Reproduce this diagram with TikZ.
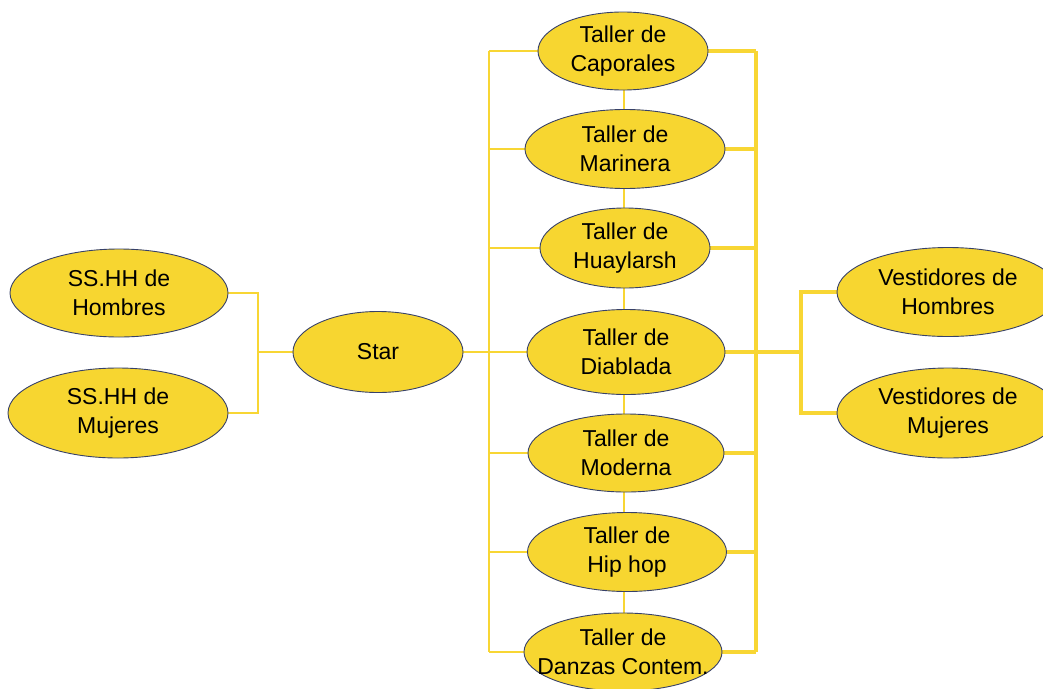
\documentclass[tikz,border=0pt]{standalone}
\usepackage{fontspec}
\setmainfont{Liberation Sans}
\usetikzlibrary{shapes.geometric,backgrounds}
\definecolor{fillY}{RGB}{247,214,48}
\definecolor{lineY}{RGB}{248,214,52}
\definecolor{edgeB}{RGB}{55,65,105}
\begin{document}
\begin{tikzpicture}[x=1pt,y=-1pt,
  ov/.style={ellipse,draw=edgeB,line width=0.9pt,fill=fillY,inner xsep=-40pt,inner ysep=-20pt,align=center,
     font=\fontsize{23}{29}\selectfont},
  thin/.style={draw=lineY,line width=1.3pt},
  thick/.style={draw=lineY,line width=3.6pt},
  mid/.style={draw=lineY,line width=2.8pt}]
\useasboundingbox (0,0) rectangle (1043,688);
% nodes
\node[ov,minimum width=218pt,minimum height=88pt] (hh) at (119,293) {SS.HH de\\Hombres};
\node[ov,minimum width=220pt,minimum height=90pt] (hm) at (118,413) {SS.HH de\\Mujeres};
\node[ov,minimum width=170pt,minimum height=81pt] (star) at (378,352) {Star};
\node[ov,minimum width=170pt,minimum height=78pt] (t1) at (623,51) {Taller de\\Caporales};
\node[ov,minimum width=200pt,minimum height=79pt] (t2) at (625,149) {Taller de\\Marinera};
\node[ov,minimum width=170pt,minimum height=80pt] (t3) at (625,248) {Taller de\\Huaylarsh};
\node[ov,minimum width=198pt,minimum height=85pt] (t4) at (626,352) {Taller de\\Diablada};
\node[ov,minimum width=196pt,minimum height=78pt] (t5) at (626,453) {Taller de\\Moderna};
\node[ov,minimum width=199pt,minimum height=79pt] (t6) at (627,552) {Taller de\\Hip hop};
\node[ov,minimum width=198pt,minimum height=78pt] (t7) at (623,652) {Taller de\\Danzas Contem.};
\node[ov,minimum width=222pt,minimum height=89pt] (vh) at (948,292) {Vestidores de\\Hombres};
\node[ov,minimum width=222pt,minimum height=90pt] (vm) at (948,413) {Vestidores de\\Mujeres};
% bus coordinates
\coordinate (jl) at (258,352);
\coordinate (tb) at (489,51);
\coordinate (bb) at (489,652);
\coordinate (rt) at (756,51);
\coordinate (rb) at (756,652);
\coordinate (vb) at (801,352);
\coordinate (vx) at (624,0);
\begin{scope}[on background layer]
\draw[thin] (hh.east) -| (jl) |- (hm.east);
\draw[thin] (star.west) -- (jl);
\draw[thin] (star.east) -- (t4.west);
\draw[thin] (tb) -- (bb);
\foreach \n in {t1,t2,t3,t5,t6,t7}
  \draw[thin] (\n.west) -- (\n.west -| tb);
\draw[thick] (rt) -- (rb);
\foreach \n in {t1,t2,t3,t4,t5,t6,t7}
  \draw[thick] (\n.east) -- (\n.east -| rt);
\draw[thick] (t4.east) -- (vb);
\draw[thick] (vh.west) -| (vb) |- (vm.west);
\foreach \a/\b in {t1/t2,t2/t3,t3/t4,t4/t5,t5/t6,t6/t7}
  \draw[mid] ([yshift=4pt]\a.south -| vx) -- ([yshift=-4pt]\b.north -| vx);
\end{scope}
\end{tikzpicture}
\end{document}
